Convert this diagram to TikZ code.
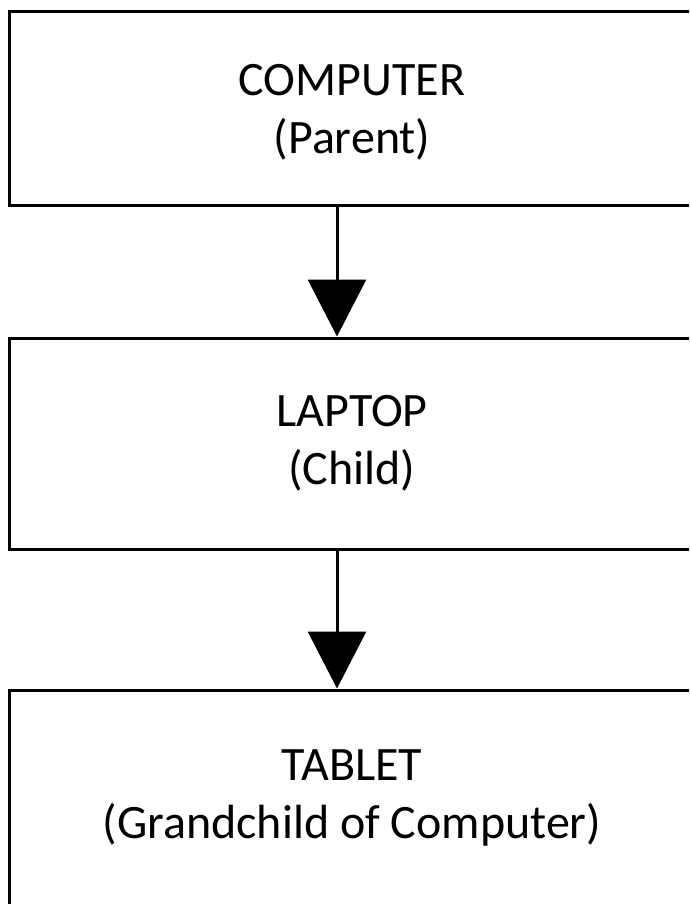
\documentclass[tikz,border=0pt]{standalone}
\usepackage{fontspec}
\setmainfont{Carlito}
\usepackage{tikz}
\usetikzlibrary{arrows.meta, positioning, calc}

\begin{document}
\begin{tikzpicture}[x=1pt, y=-1pt,
    famblock/.style={draw, line width=3pt, minimum width=686pt, inner sep=0pt,
      align=center, font=\fontsize{48}{58}\selectfont},
    famlink/.style={line width=3pt, -{Triangle[length=57pt, width=58pt]}}]
    \useasboundingbox (0,0) rectangle (689,904);
    \clip (0,0) rectangle (689,904);
    % the three boxes
    \node[famblock, minimum height=193pt, text depth=0pt] (computer) at (352,108.5) {COMPUTER\\(Parent)};
    \node[famblock, minimum height=211pt] (laptop) at (352,443.5) {LAPTOP\\(Child)};
    \node[famblock, minimum height=216pt] (tablet) at (352,798) {TABLET\\(Grandchild of Computer)};
    % links
    \draw[famlink] ([xshift=-15pt]computer.south) -- ([xshift=-15pt]laptop.north);
    \draw[famlink] ([xshift=-15pt]laptop.south) -- ([xshift=-15pt]tablet.north);
  \end{tikzpicture}
\end{document}
